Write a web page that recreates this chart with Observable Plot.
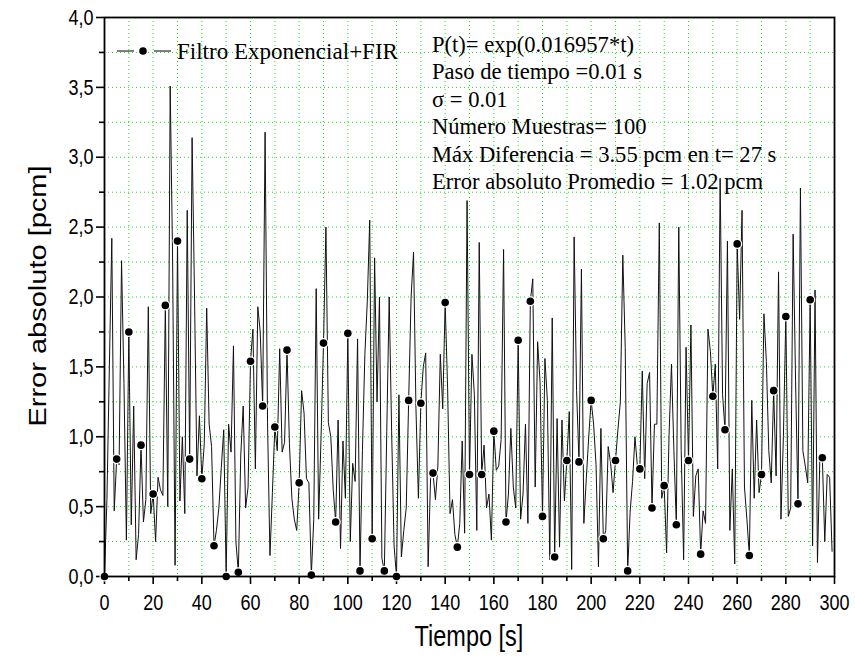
<!DOCTYPE html>
<html>
<head>
<meta charset="utf-8">
<script src="https://cdn.jsdelivr.net/npm/d3@7"></script>
<script src="https://cdn.jsdelivr.net/npm/@observablehq/plot@0.6"></script>
<style>
  html, body { margin: 0; padding: 0; background: #fff; }
  #wrap { position: relative; width: 855px; height: 662px; overflow: hidden; }
  .ov { position: absolute; white-space: nowrap; color: #000; }
  .serif { font-family: "Liberation Serif", "Times New Roman", serif; font-size: 24px; line-height: 26px; transform-origin: 0 50%; }
  .sans { font-family: "Liberation Sans", Arial, sans-serif; }
</style>
</head>
<body>
<div id="wrap"></div>
<script>
// ---------------- data ----------------
const seriesName = "Filtro Exponencial+FIR";
const timeStepSeconds = 1;
const markerEverySeconds = 5;
// absolute error [pcm], one value per second starting at t = 0 s
const errorPcm = [
  0.00, 0.55, 1.50, 2.42, 0.47, 0.84, 0.80, 2.26, 1.38, 0.26,
  1.75, 0.37, 1.22, 0.12, 0.30, 0.94, 0.39, 0.55, 1.93, 0.45,
  0.59, 0.25, 0.71, 0.62, 0.58, 1.94, 0.50, 3.51, 2.25, 0.08,
  2.40, 0.54, 1.00, 0.45, 2.62, 0.84, 3.14, 2.00, 0.72, 1.15,
  0.70, 0.95, 1.92, 1.09, 0.93, 0.22, 0.33, 0.49, 0.78, 1.05,
  0.00, 1.09, 0.89, 1.65, 0.25, 0.03, 0.87, 1.22, 0.49, 0.64,
  1.54, 1.77, 0.77, 1.93, 1.75, 1.22, 3.18, 1.10, 0.15, 0.60,
  1.07, 0.90, 1.63, 0.89, 0.96, 1.62, 0.95, 0.56, 0.41, 0.33,
  0.67, 1.33, 1.17, 0.70, 0.67, 0.01, 0.41, 2.06, 0.41, 1.00,
  1.67, 2.50, 1.10, 1.00, 0.62, 0.39, 1.12, 0.20, 0.97, 0.56,
  1.74, 0.25, 0.81, 0.68, 1.70, 0.04, 0.90, 1.59, 1.97, 2.55,
  0.27, 2.28, 1.25, 2.00, 0.13, 0.04, 1.04, 2.00, 1.04, 0.22,
  0.00, 1.30, 0.14, 0.33, 0.49, 1.26, 2.00, 2.32, 1.20, 0.56,
  1.24, 1.50, 1.60, 0.07, 0.70, 0.74, 0.55, 0.79, 1.59, 1.20,
  1.96, 1.35, 0.45, 0.55, 0.30, 0.21, 0.38, 0.97, 0.31, 2.69,
  0.73, 1.59, 1.30, 0.33, 2.39, 0.73, 0.94, 0.49, 0.59, 0.26,
  1.04, 0.76, 0.79, 0.98, 2.34, 0.39, 0.59, 1.06, 0.64, 0.49,
  1.69, 0.41, 0.59, 1.09, 0.38, 1.97, 2.13, 0.64, 1.68, 1.39,
  0.43, 1.56, 1.26, 0.12, 1.85, 0.14, 1.13, 0.21, 1.12, 0.54,
  0.83, 1.18, 0.05, 2.43, 1.33, 0.82, 2.20, 0.38, 0.70, 1.00,
  1.26, 1.09, 0.80, 0.07, 1.06, 0.27, 0.33, 0.93, 0.81, 0.60,
  0.83, 1.05, 1.25, 2.30, 1.64, 0.04, 0.46, 0.68, 1.00, 0.79,
  0.77, 1.47, 0.70, 1.38, 1.46, 0.49, 1.09, 1.09, 2.53, 0.56,
  0.65, 0.17, 1.01, 1.52, 0.90, 0.37, 2.50, 0.90, 0.12, 1.64,
  0.83, 1.80, 0.43, 0.72, 0.77, 0.16, 0.47, 0.38, 1.77, 1.61,
  1.29, 1.52, 0.77, 2.85, 1.30, 1.05, 2.40, 0.33, 0.77, 0.09,
  2.38, 1.84, 2.62, 0.64, 0.41, 0.15, 1.26, 0.56, 1.12, 0.60,
  0.73, 1.88, 1.54, 0.90, 0.67, 1.33, 0.72, 2.18, 0.41, 1.00,
  1.86, 0.43, 0.49, 2.45, 1.40, 0.52, 2.78, 0.90, 0.79, 0.67,
  1.98, 0.22, 2.05, 0.10, 0.86, 0.85, 0.25, 0.73, 0.71, 0.18
];
const xMajorTicks = [0, 20, 40, 60, 80, 100, 120, 140, 160, 180, 200, 220, 240, 260, 280, 300];
const xMinorTicks = [10, 30, 50, 70, 90, 110, 130, 150, 170, 190, 210, 230, 250, 270, 290];
const yMajorTicks = [0, 0.5, 1.0, 1.5, 2.0, 2.5, 3.0, 3.5, 4.0];
const yMinorTicks = [0.25, 0.75, 1.25, 1.75, 2.25, 2.75, 3.25, 3.75];
const xGridLines = [10, 20, 30, 40, 50, 60, 70, 80, 90, 100, 110, 120, 130, 140, 150, 160, 170, 180, 190, 200, 210, 220, 230, 240, 250, 260, 270, 280, 290];
const yGridLines = [0.25, 0.5, 0.75, 1.0, 1.25, 1.5, 1.75, 2.0, 2.25, 2.5, 2.75, 3.0, 3.25, 3.5, 3.75];
const xLabel = "Tiempo [s]";
const yLabel = "Error absoluto [pcm]";
const infoLines = [
  "P(t)= exp(0.016957*t)",
  "Paso de tiempo =0.01 s",
  "σ = 0.01",
  "Número Muestras= 100",
  "Máx Diferencia = 3.55 pcm en t= 27 s",
  "Error absoluto Promedio = 1.02 pcm"
];

// ---------------- build ----------------
const series = errorPcm.map((v, i) => ({t: i * timeStepSeconds, v}));
const markers = series.filter(d => d.t % markerEverySeconds === 0);
const fmt = d => d.toFixed(1).replace(".", ",");

const gridStyle = {stroke: "#1fe01f", strokeOpacity: 1, strokeWidth: 1, strokeDasharray: "1,3"};

const chart = Plot.plot({
  width: 855,
  height: 662,
  marginLeft: 104,
  marginRight: 21,
  marginTop: 17,
  marginBottom: 86,
  x: {domain: [0, 300]},
  y: {domain: [0, 4]},
  style: {fontFamily: "'Liberation Sans', Arial, sans-serif", fontSize: "22.5px", color: "#000", background: "#fff"},
  marks: [
    Plot.gridX(xGridLines, gridStyle),
    Plot.gridY(yGridLines, gridStyle),
    Plot.axisX(xMajorTicks, {tickSize: 8, tickPadding: 10, tickFormat: d => String(d), label: null, strokeWidth: 1.6}),
    Plot.axisX(xMinorTicks, {tickSize: 5, tickFormat: () => "", label: null, strokeWidth: 1.6}),
    Plot.axisY(yMajorTicks, {tickSize: 8, tickPadding: 3, tickFormat: fmt, label: null, strokeWidth: 1.6}),
    Plot.axisY(yMinorTicks, {tickSize: 5, tickFormat: () => "", label: null, strokeWidth: 1.6}),
    Plot.line(series, {x: "t", y: "v", stroke: "#111", strokeWidth: 1}),
    Plot.dot(markers, {x: "t", y: "v", r: 3.8, fill: "#000", stroke: "#fff", strokeWidth: 2.5}),
    Plot.dot(markers, {x: "t", y: "v", r: 3.8, fill: "#000", stroke: "none"}),
    Plot.frame({stroke: "#000", strokeWidth: 1.8})
  ]
});

// the reference uses tall, narrow lettering: condense tick labels horizontally
chart.querySelectorAll('g[aria-label$="tick label"] text').forEach(t => {
  const tr = t.getAttribute("transform") || "";
  t.setAttribute("transform", tr + " scale(0.8,1)");
});

const wrap = document.getElementById("wrap");
wrap.appendChild(chart);

function addText(txt, cls, css) {
  const d = document.createElement("div");
  d.className = "ov " + cls;
  d.textContent = txt;
  Object.assign(d.style, css);
  wrap.appendChild(d);
  return d;
}

// axis titles
addText(xLabel, "sans", {left: "0px", width: "938px", textAlign: "center", top: "620px", fontSize: "29px", lineHeight: "32px", transform: "scaleX(0.81)"});
addText(yLabel, "sans", {left: "38px", top: "296px", fontSize: "29px", lineHeight: "32px",
  transform: "translate(-50%,-50%) rotate(-90deg) scale(1,0.81)"});

// legend
const leg = document.createElementNS("http://www.w3.org/2000/svg", "svg");
leg.setAttribute("width", "60"); leg.setAttribute("height", "12");
leg.style.position = "absolute"; leg.style.left = "114px"; leg.style.top = "45px";
leg.innerHTML = '<line x1="3" y1="6" x2="20" y2="6" stroke="#000" stroke-width="1"/>' +
  '<circle cx="29" cy="6" r="3.8" fill="#000"/>' +
  '<line x1="40" y1="6" x2="57" y2="6" stroke="#000" stroke-width="1"/>';
wrap.appendChild(leg);
addText(seriesName, "serif", {left: "177px", top: "38px", transform: "scaleX(0.96)"});

// info block
infoLines.forEach((s, i) => {
  addText(s, "serif", {left: "432px", top: (31 + i * 27.4) + "px", transform: "scaleX(0.94)"});
});
</script>
</body>
</html>
